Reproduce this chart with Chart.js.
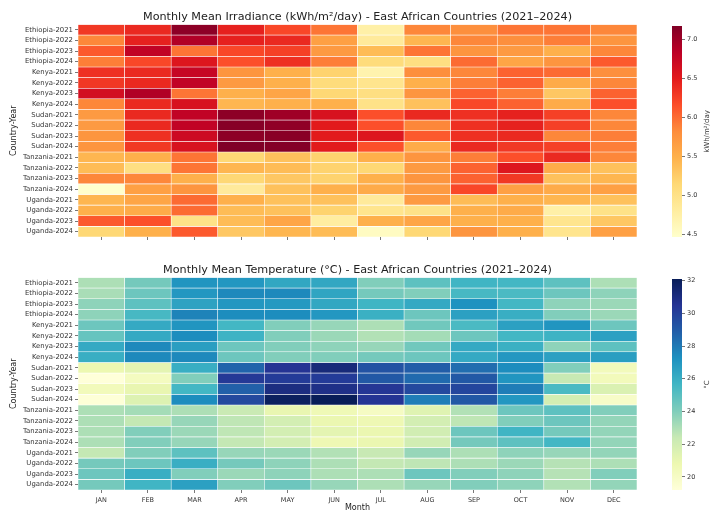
<!DOCTYPE html>
<html>
<head>
<meta charset="utf-8">
<script src="https://cdn.jsdelivr.net/npm/chart.js@4.4.1/dist/chart.umd.min.js"></script>
<style>
  html, body { margin: 0; padding: 0; background: #ffffff; width: 710px; height: 510px; overflow: hidden; }
  canvas { position: absolute; }
</style>
</head>
<body>
<canvas id="heatIrr" style="left:0;top:0" width="640" height="245"></canvas>
<canvas id="barIrr" style="left:640px;top:0" width="70" height="245"></canvas>
<canvas id="heatTemp" style="left:0;top:255px" width="640" height="265"></canvas>
<canvas id="barTemp" style="left:640px;top:255px" width="70" height="245"></canvas>
<script>
// ---- categories ----
const months = ['JAN', 'FEB', 'MAR', 'APR', 'MAY', 'JUN', 'JUL', 'AUG', 'SEP', 'OCT', 'NOV', 'DEC'];
const countries = ['Ethiopia', 'Kenya', 'Sudan', 'Tanzania', 'Uganda'];
const years = [2021, 2022, 2023, 2024];

// ---- monthly mean irradiance (kWh/m²/day), one row per year ----
const irrEthiopia = [
  [6.30, 6.40, 7.10, 6.45, 6.20, 5.95, 4.75, 5.85, 5.80, 5.95, 5.95, 5.85],
  [5.85, 6.45, 6.90, 6.45, 6.40, 5.65, 4.85, 5.45, 5.85, 5.80, 5.90, 5.75],
  [6.10, 6.80, 5.95, 6.20, 6.25, 5.70, 5.40, 5.95, 5.75, 5.70, 5.50, 5.85],
  [5.90, 6.20, 6.55, 6.15, 6.35, 5.90, 5.10, 5.05, 6.00, 5.60, 5.75, 6.10]
];
const irrKenya = [
  [6.35, 6.40, 6.75, 5.75, 5.50, 5.20, 4.70, 5.80, 5.85, 6.05, 6.00, 5.80],
  [6.30, 6.40, 6.80, 5.70, 5.50, 5.10, 4.95, 5.50, 5.90, 6.05, 5.55, 5.85],
  [6.65, 6.90, 5.95, 5.50, 5.60, 5.15, 5.05, 5.75, 6.05, 5.90, 5.30, 6.05],
  [5.85, 6.40, 6.60, 5.45, 5.50, 5.50, 5.00, 5.35, 6.20, 6.05, 5.55, 6.15]
];
const irrSudan = [
  [5.70, 6.40, 6.80, 7.10, 7.00, 6.60, 6.15, 6.40, 6.35, 6.45, 6.25, 5.85],
  [5.70, 6.40, 6.80, 7.13, 7.08, 6.50, 6.15, 5.85, 6.35, 6.45, 6.25, 5.85],
  [5.75, 6.35, 6.70, 7.10, 7.12, 6.50, 6.55, 6.10, 6.35, 6.40, 5.85, 5.90],
  [5.75, 6.30, 6.60, 7.17, 7.15, 6.50, 6.15, 5.55, 6.40, 6.30, 6.25, 5.90]
];
const irrTanzania = [
  [5.45, 5.50, 5.95, 5.15, 5.35, 5.20, 5.50, 5.75, 5.90, 6.15, 6.40, 5.85],
  [5.40, 5.05, 5.95, 5.45, 5.40, 5.20, 5.15, 5.70, 6.05, 6.55, 5.55, 5.35],
  [5.85, 5.85, 5.50, 5.15, 5.30, 5.20, 5.50, 5.75, 6.05, 6.30, 5.35, 5.45],
  [4.47, 5.65, 5.75, 4.85, 5.35, 5.50, 5.55, 5.70, 6.20, 5.65, 5.55, 5.65]
];
const irrUganda = [
  [5.45, 5.60, 6.00, 5.50, 5.35, 5.35, 4.85, 5.70, 5.40, 5.50, 5.45, 5.35],
  [5.50, 5.55, 6.00, 5.40, 5.35, 5.20, 4.95, 5.00, 5.50, 5.55, 4.75, 5.00],
  [6.10, 6.15, 5.00, 5.40, 5.60, 4.80, 5.50, 5.60, 5.50, 5.50, 4.95, 5.30],
  [5.15, 5.50, 6.10, 5.30, 5.45, 5.40, 4.55, 5.15, 5.75, 5.50, 4.95, 5.65]
];

// ---- monthly mean temperature (°C), one row per year ----
const tempEthiopia = [
  [23.0, 24.3, 27.1, 27.0, 26.3, 26.3, 24.0, 24.9, 25.7, 25.6, 24.9, 23.0],
  [23.1, 24.5, 27.0, 27.5, 27.5, 26.4, 24.3, 24.0, 25.5, 25.4, 24.5, 23.7],
  [23.7, 24.9, 26.5, 27.0, 26.9, 26.3, 25.7, 26.2, 27.2, 25.6, 23.7, 23.4],
  [23.7, 25.5, 27.7, 27.4, 27.4, 27.0, 25.9, 24.5, 26.6, 26.0, 24.0, 23.4]
];
const tempKenya = [
  [24.5, 26.2, 27.1, 25.6, 24.0, 23.5, 23.0, 24.4, 25.4, 26.6, 27.1, 24.5],
  [24.7, 26.2, 27.4, 25.8, 24.0, 23.4, 22.9, 23.2, 24.5, 25.6, 25.8, 26.6],
  [26.2, 27.5, 26.7, 24.5, 24.0, 23.7, 23.5, 24.4, 26.2, 25.9, 23.7, 24.9],
  [26.0, 27.5, 27.5, 24.5, 24.0, 24.0, 24.3, 24.5, 26.2, 27.0, 26.6, 26.7]
];
const tempSudan = [
  [20.8, 21.2, 26.0, 28.7, 30.5, 31.2, 29.3, 28.9, 28.4, 27.4, 24.0, 20.4],
  [19.2, 20.2, 24.0, 30.3, 30.2, 30.2, 29.1, 28.5, 29.1, 27.1, 22.4, 20.4],
  [20.4, 21.0, 25.6, 28.8, 31.0, 30.8, 30.4, 29.7, 29.8, 27.9, 25.4, 21.6],
  [19.3, 21.5, 27.4, 29.7, 31.9, 32.1, 30.5, 27.9, 29.1, 27.0, 21.9, 19.9]
];
const tempTanzania = [
  [23.0, 23.2, 23.0, 22.3, 21.0, 20.6, 20.1, 21.4, 22.9, 24.5, 24.9, 24.0],
  [23.0, 22.5, 23.5, 22.6, 21.9, 20.9, 20.7, 21.9, 22.6, 24.0, 24.5, 23.6],
  [23.0, 24.0, 23.4, 22.6, 21.9, 21.2, 20.9, 22.0, 24.5, 25.7, 24.3, 23.6],
  [23.0, 24.0, 23.5, 22.5, 21.9, 20.7, 20.9, 22.0, 24.3, 24.9, 25.6, 23.6]
];
const tempUganda = [
  [22.5, 24.0, 24.9, 23.5, 23.4, 22.9, 22.4, 23.5, 23.0, 23.7, 23.5, 23.6],
  [24.3, 24.5, 26.0, 24.3, 23.7, 23.0, 22.5, 22.6, 23.0, 23.4, 22.8, 23.0],
  [24.5, 26.0, 24.0, 23.4, 23.7, 23.0, 23.0, 24.5, 24.0, 23.7, 22.8, 24.0],
  [24.3, 25.7, 26.6, 24.0, 24.5, 23.5, 23.0, 23.5, 24.0, 23.7, 22.9, 23.6]
];

// ---- colour bar ticks ----
const irrTicks = [4.5, 5.0, 5.5, 6.0, 6.5, 7.0];
const tempTicks = [20, 22, 24, 26, 28, 30, 32];

// ---- assemble rows ----
const rowLabels = [];
countries.forEach(c => years.forEach(y => rowLabels.push(c + '-' + y)));
const irrRows = [].concat(irrEthiopia, irrKenya, irrSudan, irrTanzania, irrUganda);
const tempRows = [].concat(tempEthiopia, tempKenya, tempSudan, tempTanzania, tempUganda);

// ---- colour maps ----
const YlOrRd = ['#ffffcc', '#ffeda0', '#fed976', '#feb24c', '#fd8d3c', '#fc4e2a', '#e31a1c', '#bd0026', '#800026'];
const YlGnBu = ['#ffffd9', '#edf8b1', '#c7e9b4', '#7fcdbb', '#41b6c4', '#1d91c0', '#225ea8', '#253494', '#081d58'];

function hexRgb(h) { return [1, 3, 5].map(k => parseInt(h.substr(k, 2), 16)); }
function makeCmap(stops) {
  const rgb = stops.map(hexRgb);
  return t => {
    t = Math.max(0, Math.min(1, t));
    const p = t * (rgb.length - 1);
    const i = Math.min(rgb.length - 2, Math.floor(p));
    const f = p - i;
    const c = rgb[i].map((a, k) => Math.round(a + (rgb[i + 1][k] - a) * f));
    return 'rgb(' + c.join(',') + ')';
  };
}

const FONT = '"DejaVu Sans", "Liberation Sans", sans-serif';
const TXT = '#333333';

function heatmap(id, title, rows, stops, opts) {
  const cmap = makeCmap(stops);
  const flat = rows.flat();
  const vmin = Math.min(...flat), vmax = Math.max(...flat);
  const datasets = rows.map((vals, i) => ({
    label: rowLabels[i],
    data: months.map(() => [i, i + 1]),
    backgroundColor: vals.map(v => cmap((v - vmin) / (vmax - vmin))),
    borderColor: 'rgba(255,255,255,0.8)',
    borderWidth: 0.6,
    borderSkipped: false,
    grouped: false,
    barPercentage: 1,
    categoryPercentage: 1
  }));
  new Chart(document.getElementById(id), {
    type: 'bar',
    data: { labels: months, datasets },
    options: {
      responsive: false,
      animation: false,
      events: [],
      layout: { padding: { left: 0, right: 3, top: 0, bottom: 0 } },
      plugins: {
        legend: { display: false },
        tooltip: { enabled: false },
        title: {
          display: true, text: title, fullSize: false, color: '#222',
          font: { family: FONT, size: 11.2, weight: 'normal', lineHeight: 1.2 },
          padding: opts.titlePad
        }
      },
      scales: {
        x: {
          type: 'category', offset: true,
          grid: { offset: false, drawOnChartArea: false, tickLength: 3, color: '#555', lineWidth: 0.8 },
          border: { display: false },
          ticks: { display: opts.xLabels, color: TXT, font: { family: FONT, size: 6.5 }, padding: 3, maxRotation: 0 },
          title: { display: opts.xLabels, text: 'Month', color: '#222', font: { family: FONT, size: 8 }, padding: { top: 0, bottom: 7 } },
          afterFit: s => { s.height = opts.xHeight; }
        },
        y: {
          type: 'linear', min: 0, max: rowLabels.length, reverse: true,
          afterBuildTicks: s => { s.ticks = rowLabels.map((_, i) => ({ value: i + 0.5 })); },
          ticks: { autoSkip: false, color: TXT, font: { family: FONT, size: 6.9 }, padding: 2, callback: (v, i) => rowLabels[i] },
          grid: { drawOnChartArea: false, tickLength: 3, color: '#555', lineWidth: 0.8 },
          border: { display: false },
          title: { display: true, text: 'Country-Year', color: '#222', font: { family: FONT, size: 8 }, padding: { top: 9, bottom: 0 } },
          afterFit: s => { s.width = 78; }
        }
      }
    }
  });
  return { vmin, vmax };
}

// colour-bar gradient, rebuilt once the value scale has its pixel range
const cbGradient = {
  id: 'cbGradient',
  afterLayout(chart, args, o) {
    const y = chart.scales.y;
    const y0 = y.getPixelForValue(y.min), y1 = y.getPixelForValue(y.max);
    if (!isFinite(y0) || !isFinite(y1)) return;
    const g = chart.ctx.createLinearGradient(0, y0, 0, y1);
    o.stops.forEach((s, k) => g.addColorStop(k / (o.stops.length - 1), s));
    chart.$grad = g;
  }
};

const cbLabel = {
  id: 'cbLabel',
  afterDraw(chart, args, o) {
    const { ctx, chartArea } = chart;
    ctx.save();
    ctx.font = '7px ' + FONT;
    ctx.fillStyle = TXT;
    ctx.textAlign = 'center';
    ctx.textBaseline = 'middle';
    ctx.translate(o.x, (chartArea.top + chartArea.bottom) / 2);
    ctx.rotate(-Math.PI / 2);
    ctx.fillText(o.text, 0, 0);
    ctx.restore();
  }
};

function colorbar(id, stops, range, ticks, fmt, label, pad) {
  new Chart(document.getElementById(id), {
    type: 'bar',
    data: {
      labels: [''],
      datasets: [{
        data: [[range.vmin, range.vmax]],
        barPercentage: 1, categoryPercentage: 1, borderWidth: 0,
        backgroundColor: c => c.chart.$grad || stops[0]
      }]
    },
    options: {
      responsive: false,
      animation: false,
      events: [],
      layout: { padding: pad },
      plugins: {
        legend: { display: false }, tooltip: { enabled: false },
        cbLabel: { text: label, x: 67 },
        cbGradient: { stops }
      },
      scales: {
        x: { display: false },
        y: {
          position: 'right', min: range.vmin, max: range.vmax,
          afterBuildTicks: s => { s.ticks = ticks.map(v => ({ value: v })); },
          ticks: { color: TXT, font: { family: FONT, size: 6.5 }, padding: 2, callback: v => fmt(v) },
          grid: { drawOnChartArea: false, tickLength: 3, color: '#555', lineWidth: 0.8 },
          border: { display: false },
          afterFit: s => { s.width = 28; }
        }
      }
    },
    plugins: [cbGradient, cbLabel]
  });
}

const irrRange = heatmap('heatIrr', 'Monthly Mean Irradiance (kWh/m²/day) - East African Countries (2021–2024)',
  irrRows, YlOrRd, { titlePad: { top: 10, bottom: 1 }, xLabels: false, xHeight: 8 });
colorbar('barIrr', YlOrRd, irrRange, irrTicks, v => v.toFixed(1), 'kWh/m²/day', { left: 32, top: 26, bottom: 8, right: 0 });

const tempRange = heatmap('heatTemp', 'Monthly Mean Temperature (°C) - East African Countries (2021–2024)',
  tempRows, YlGnBu, { titlePad: { top: 8.5, bottom: 0.5 }, xLabels: true, xHeight: 30 });
colorbar('barTemp', YlGnBu, tempRange, tempTicks, v => String(v), '°C', { left: 32, top: 24, bottom: 10, right: 0 });
</script>
</body>
</html>
